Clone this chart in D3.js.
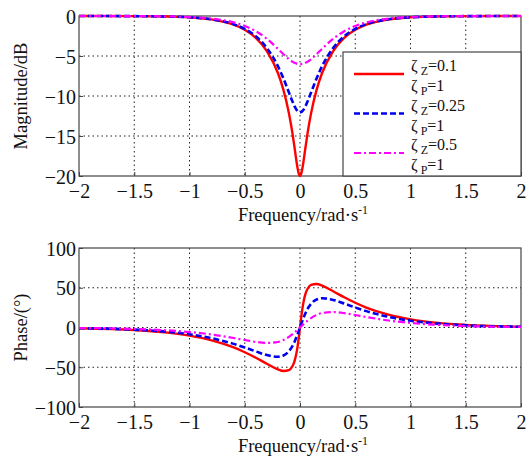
<!DOCTYPE html>
<html>
<head>
<meta charset="utf-8">
<script src="https://d3js.org/d3.v7.min.js"></script>
<style>
  body { margin: 0; background: #fff; }
  text { font-family: "Liberation Serif", "Times New Roman", serif; fill: #111; }
  .tick line { stroke: #444; }
  .grid line { stroke: #222; stroke-dasharray: 1.5,3; stroke-width: 1; }
  .frame { fill: none; stroke: #444; stroke-width: 1.2; }
</style>
</head>
<body>
<svg width="532" height="457"></svg>
<script>
// frequency (log scale offset), shared by both panels
var freq = [-2,-1.5,-1.2,-1,-0.8,-0.6,-0.5,-0.4,-0.3,-0.2,-0.15,-0.1,-0.07,-0.05,-0.03,-0.02,-0.01,0,
            0.01,0.02,0.03,0.05,0.07,0.1,0.15,0.2,0.3,0.4,0.5,0.6,0.8,1,1.2,1.5,2];

// magnitude, dB
var magZ01  = [0,-0.02,-0.07,-0.17,-0.43,-1.08,-1.72,-2.74,-4.38,-7.13,-9.23,-12.17,-14.52,-16.38,-18.32,-19.17,-19.78,-20,
               -19.78,-19.17,-18.32,-16.38,-14.52,-12.17,-9.23,-7.13,-4.38,-2.74,-1.72,-1.08,-0.43,-0.17,-0.07,-0.02,0];
var magZ025 = [0,-0.02,-0.07,-0.16,-0.41,-1.02,-1.61,-2.54,-4.00,-6.27,-7.80,-9.57,-10.63,-11.26,-11.74,-11.90,-12.01,-12.04,
               -12.01,-11.90,-11.74,-11.26,-10.63,-9.57,-7.80,-6.27,-4.00,-2.54,-1.61,-1.02,-0.41,-0.16,-0.07,-0.02,0];
var magZ05  = [0,-0.01,-0.05,-0.13,-0.32,-0.80,-1.24,-1.90,-2.85,-4.10,-4.78,-5.40,-5.70,-5.85,-5.96,-5.99,-6.01,-6.02,
               -6.01,-5.99,-5.96,-5.85,-5.70,-5.40,-4.78,-4.10,-2.85,-1.90,-1.24,-0.80,-0.32,-0.13,-0.05,-0.01,0];

// phase, degrees
var phZ01  = [-1.0,-3.3,-6.5,-10.3,-16.2,-25.1,-31.1,-38.0,-45.6,-52.7,-54.7,-53.6,-49.1,-42.5,-30.7,-22.1,-11.6,0,
              11.6,22.1,30.7,42.5,49.1,53.6,54.7,52.7,45.6,38.0,31.1,25.1,16.2,10.3,6.5,3.3,1.0];
var phZ025 = [-0.9,-2.7,-5.4,-8.5,-13.4,-20.6,-25.1,-30.1,-34.7,-36.8,-35.2,-29.8,-23.7,-18.2,-11.5,-7.8,-3.9,0,
              3.9,7.8,11.5,18.2,23.7,29.8,35.2,36.8,34.7,30.1,25.1,20.6,13.4,8.5,5.4,2.7,0.9];
var phZ05  = [-0.6,-1.8,-3.6,-5.7,-8.8,-13.2,-15.7,-18.1,-19.4,-18.2,-15.8,-11.8,-8.7,-6.4,-3.9,-2.6,-1.3,0,
              1.3,2.6,3.9,6.4,8.7,11.8,15.8,18.2,19.4,18.1,15.7,13.2,8.8,5.7,3.6,1.8,0.6];

var xTicks = [-2,-1.5,-1,-0.5,0,0.5,1,1.5,2];
var magTicks = [-20,-15,-10,-5,0];
var phTicks = [-100,-50,0,50,100];
var zetaZ = ["0.1","0.25","0.5"];
var zetaP = ["1","1","1"];

var styles = [
  {color: "#ff0000", dash: null, width: 2.4},
  {color: "#0000ee", dash: "6,3", width: 2.6},
  {color: "#ff00ff", dash: "7,3,2,3", width: 2.2}
];

var svg = d3.select("svg");
var left = 79, right = 521;
var x = d3.scaleLinear().domain([-2, 2]).range([left, right]);
var fmt = d3.format("~g");

function panel(id, top, bottom, domain, yTicks, yLabel, series, legend) {
  var y = d3.scaleLinear().domain(domain).range([bottom, top]);
  var g = svg.append("g");

  g.append("clipPath").attr("id", id).append("rect")
    .attr("x", left).attr("y", top - 2).attr("width", right - left).attr("height", bottom - top + 4);

  var grid = g.append("g").attr("class", "grid");
  grid.selectAll(".gx").data(xTicks.slice(1, -1)).enter().append("line")
    .attr("x1", d => x(d)).attr("x2", d => x(d)).attr("y1", top).attr("y2", bottom);
  grid.selectAll(".gy").data(yTicks.slice(1, -1)).enter().append("line")
    .attr("y1", d => y(d)).attr("y2", d => y(d)).attr("x1", left).attr("x2", right);

  var xAxis = g.append("g").attr("transform", "translate(0," + bottom + ")")
    .call(d3.axisBottom(x).tickValues(xTicks).tickFormat(fmt).tickSizeInner(-4).tickSizeOuter(0).tickPadding(8));
  var yAxis = g.append("g").attr("transform", "translate(" + left + ",0)")
    .call(d3.axisLeft(y).tickValues(yTicks).tickFormat(fmt).tickSizeInner(-4).tickSizeOuter(0).tickPadding(3));
  [xAxis, yAxis].forEach(function(a) {
    a.select(".domain").remove();
    a.selectAll("text").style("font-size", "20px").style("font-family", '"Liberation Serif", serif').attr("fill", "#111");
  });
  yAxis.selectAll("text").attr("dy", "0.35em");

  g.append("rect").attr("class", "frame")
    .attr("x", left).attr("y", top).attr("width", right - left).attr("height", bottom - top);

  var line = d3.line().x((d, i) => x(freq[i])).y(d => y(d)).curve(d3.curveMonotoneX);
  g.append("g").attr("clip-path", "url(#" + id + ")")
    .selectAll("path").data(series).enter().append("path")
    .attr("d", line)
    .attr("fill", "none")
    .attr("stroke", (d, i) => styles[i].color)
    .attr("stroke-width", (d, i) => styles[i].width)
    .attr("stroke-dasharray", (d, i) => styles[i].dash);

  g.append("text")
    .attr("x", (left + right) / 2 + 3).attr("y", bottom + 45)
    .attr("text-anchor", "middle").style("font-size", "18.5px")
    .text("Frequency/rad·s").append("tspan").attr("dy", -7).style("font-size", "12px").text("-1");

  g.append("text")
    .attr("transform", "translate(27," + ((top + bottom) / 2) + ") rotate(-90)")
    .attr("text-anchor", "middle").style("font-size", "18.5px")
    .text(yLabel);

  if (legend) {
    var lx = 343, ly = 52;
    g.append("rect").attr("x", lx).attr("y", ly).attr("width", right - lx).attr("height", bottom - ly)
      .attr("fill", "#fff").attr("stroke", "#444").attr("stroke-width", 1.2);
    zetaZ.forEach(function(z, i) {
      var cy = ly + 22 + i * 39.5;
      g.append("line").attr("x1", 354).attr("x2", 404).attr("y1", cy).attr("y2", cy)
        .attr("stroke", styles[i].color).attr("stroke-width", styles[i].width)
        .attr("stroke-dasharray", styles[i].dash);
      var t1 = g.append("text").attr("x", 411).attr("y", cy - 3).style("font-size", "16px");
      t1.append("tspan").text("ζ");
      t1.append("tspan").attr("dx", 3).attr("dy", 4).style("font-size", "12px").text("Z");
      t1.append("tspan").attr("dy", -4).text("=" + z);
      var t2 = g.append("text").attr("x", 411).attr("y", cy + 17).style("font-size", "16px");
      t2.append("tspan").text("ζ");
      t2.append("tspan").attr("dx", 3).attr("dy", 4).style("font-size", "12px").text("P");
      t2.append("tspan").attr("dy", -4).text("=" + zetaP[i]);
    });
  }
}

panel("clipMag", 16, 176, [-20, 0], magTicks, "Magnitude/dB", [magZ01, magZ025, magZ05], true);
panel("clipPh", 248, 407, [-100, 100], phTicks, "Phase/(°)", [phZ01, phZ025, phZ05], false);
</script>
</body>
</html>
